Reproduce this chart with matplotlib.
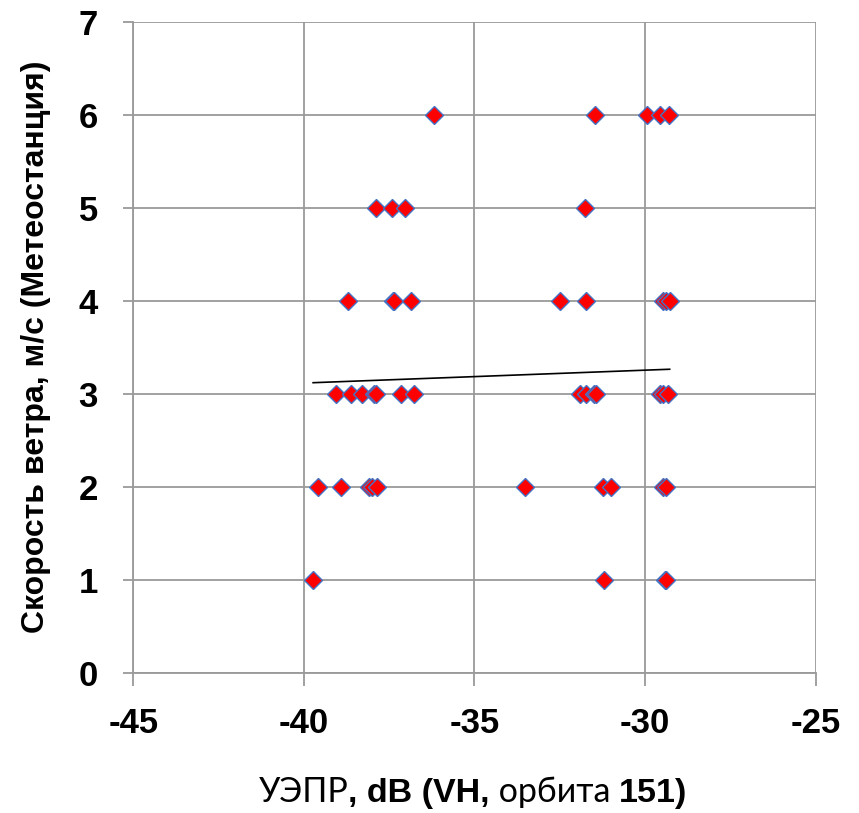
import matplotlib
matplotlib.use("Agg")
import matplotlib.pyplot as plt
import numpy as np

plt.rcParams["axes.unicode_minus"] = False

# ---- data ----
uepr_db = [
    -36.20, -31.48, -29.93, -29.57, -29.30,                       # 6 m/s
    -37.88, -37.43, -37.05, -31.76,                               # 5 m/s
    -38.70, -37.40, -37.35, -36.86, -32.48, -31.74, -29.49, -29.38, -29.28,  # 4 m/s
    -39.05, -38.62, -38.30, -37.96, -37.89, -37.16, -36.76,
    -31.92, -31.72, -31.50, -31.45, -29.57, -29.47, -29.33,       # 3 m/s
    -39.58, -38.91, -38.08, -37.99, -37.87, -33.53, -31.24, -30.99, -29.49, -29.40,  # 2 m/s
    -39.73, -31.21, -29.43, -29.38,                               # 1 m/s
]
wind_ms = (
    [6] * 5 + [5] * 4 + [4] * 9 + [3] * 14 + [2] * 10 + [1] * 4
)
# linear trendline as shown in the reference (y = slope * x + intercept)
trend_slope = 0.01385
trend_intercept = 3.670

x_ticks = [-45, -40, -35, -30, -25]
y_ticks = [0, 1, 2, 3, 4, 5, 6, 7]
y_label = "Скорость ветра, м/с (Метеостанция)"
x_label_parts = [("УЭПР", "normal"), (", dB (VH,", "bold"), (" орбита ", "normal"), ("151)", "bold")]

W, H, DPI = 859, 813, 100
fig = plt.figure(figsize=(W / DPI, H / DPI), dpi=DPI)
ax = fig.add_axes([133.3 / W, 1 - 672.7 / H, (815.7 - 133.3) / W, (672.7 - 22) / H])

grid_col = "#9a9a9a"
ax.set_xlim(-45, -25)
ax.set_ylim(0, 7)
ax.set_xticks(x_ticks)
ax.set_yticks(y_ticks)
ax.grid(True, color=grid_col, linewidth=1.3)
ax.set_axisbelow(True)
for s in ["top", "right"]:
    ax.spines[s].set_visible(False)
for s in ["left", "bottom"]:
    ax.spines[s].set_color(grid_col)
    ax.spines[s].set_linewidth(1.3)
ax.tick_params(axis="both", direction="out", color=grid_col, width=1.3)
ax.tick_params(axis="y", length=7.5, pad=18)
ax.tick_params(axis="x", length=9, pad=16)
for lab in ax.get_xticklabels() + ax.get_yticklabels():
    lab.set_fontfamily("Liberation Sans")
    lab.set_fontweight("bold")
    lab.set_fontsize(25)

# trend line across the data range
xs = np.array([min(uepr_db), max(uepr_db)])
ax.plot(xs, trend_slope * xs + trend_intercept, color="black", linewidth=1.2, zorder=2)

ax.plot(uepr_db, wind_ms, linestyle="none", marker="D", markersize=8.7,
        markerfacecolor="#ff0000", markeredgecolor="#4472c4", markeredgewidth=1.0,
        zorder=3, clip_on=False)

fig.text(36 / W, 1 - 347 / H, y_label, rotation=90, ha="center", va="center",
         fontfamily="Liberation Sans", fontweight="bold", fontsize=23)

# mixed-style x label
renderer = fig.canvas.get_renderer()
texts = []
for s, w in x_label_parts:
    fam = "Liberation Sans" if w == "bold" else "Lato"
    t = fig.text(0, 1 - 802 / H, s, ha="left", va="baseline",
                 fontfamily=fam, fontweight=w, fontsize=24.5)
    texts.append(t)
widths = [t.get_window_extent(renderer).width for t in texts]
total = sum(widths)
x0 = 473 - total / 2
for t, wd in zip(texts, widths):
    t.set_x(x0 / W)
    x0 += wd

fig.savefig("out.png", dpi=DPI)
